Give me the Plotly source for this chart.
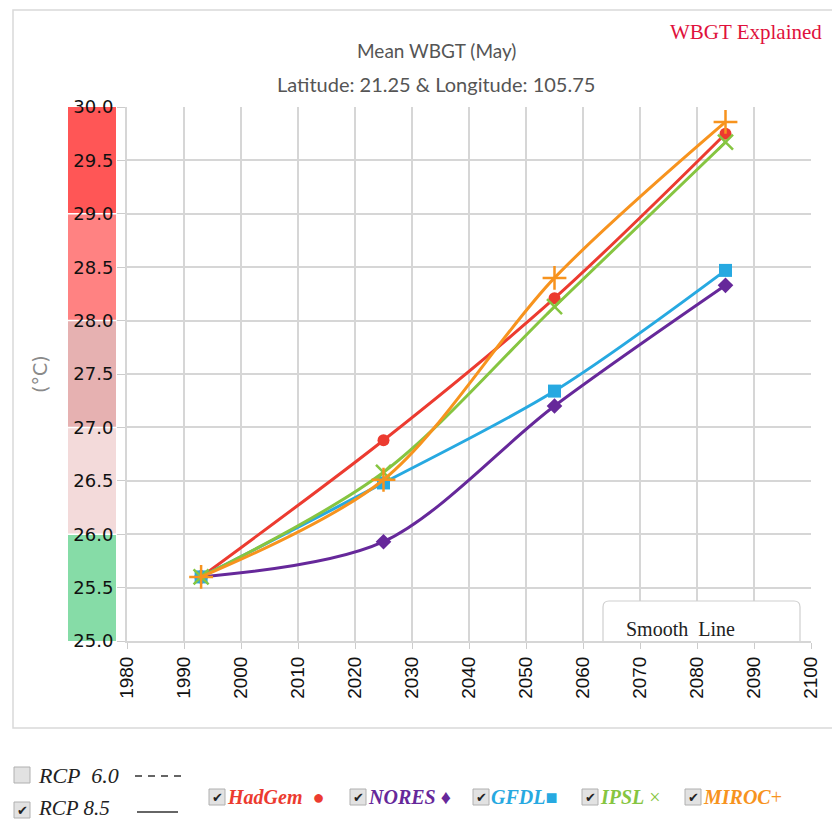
import plotly.graph_objects as go

# ---------------- data ----------------
years = [1993, 2025, 2055, 2085]
hadgem = [25.60, 26.88, 28.21, 29.75]
nores = [25.60, 25.93, 27.20, 28.33]
gfdl = [25.60, 26.48, 27.34, 28.47]
ipsl = [25.60, 26.58, 28.13, 29.67]
miroc = [25.60, 26.51, 28.40, 29.86]

series_names = ["HadGem", "NORES", "GFDL", "IPSL", "MIROC"]
series_values = [hadgem, nores, gfdl, ipsl, miroc]
series_colors = ["#ec3b30", "#66289a", "#27a9e1", "#86c541", "#f7931e"]
series_symbols = ["circle", "diamond", "square", "x-thin", "cross-thin"]
series_sizes = [12, 12, 13, 15, 17]

x_ticks = list(range(1980, 2101, 10))
y_ticks = [25.0, 25.5, 26.0, 26.5, 27.0, 27.5, 28.0, 28.5, 29.0, 29.5, 30.0]
band_edges = [25, 26, 27, 28, 29, 30]
band_colors = ["#86dca7", "#f3dada", "#e6b1b1", "#ff8282", "#ff5656"]

# ---------------- layout geometry (page pixels; figure sits at 8px body offset) ----------------
OFF = 8
W, H = 840 - OFF, 822 - OFF
L, R, T, B = 127, 811, 107, 641
pw, ph = R - L, B - T


def px(x):
    return (x - L) / pw


def py(y):
    return (B - y) / ph


fig = go.Figure()

for name, vals, col, sym, sz in zip(series_names, series_values, series_colors,
                                     series_symbols, series_sizes):
    lw = 2.5 if sym.endswith("thin") else 0
    fig.add_trace(go.Scatter(
        x=years, y=vals, name=name, mode="lines+markers",
        line=dict(color=col, width=3, shape="spline", smoothing=0.9),
        marker=dict(symbol=sym, size=sz, color=col,
                    line=dict(color=col, width=lw)),
        showlegend=False, cliponaxis=False,
    ))

shapes = []
# outer panel border
shapes.append(dict(type="rect", xref="paper", yref="paper",
                   x0=px(13), x1=px(845), y0=py(728), y1=py(10),
                   line=dict(color="#d9d9d9", width=1.5), fillcolor="rgba(0,0,0,0)",
                   layer="below"))
# colored bands behind y tick labels
for i, c in enumerate(band_colors):
    shapes.append(dict(type="rect", xref="paper", yref="y",
                       x0=px(68), x1=px(116), y0=band_edges[i], y1=band_edges[i + 1],
                       line=dict(width=0), fillcolor=c, layer="below"))
    if i > 0:
        shapes.append(dict(type="line", xref="paper", yref="y",
                           x0=px(68), x1=px(116), y0=band_edges[i], y1=band_edges[i],
                           line=dict(color="white", width=1.5), layer="below"))

# Smooth Line box (rounded)
bx0, bx1, by0, by1, rr = 603, 800, 601, 641, 6
path = (f"M {px(bx0)},{py(by1)} L {px(bx0)},{py(by0 + rr)} "
        f"Q {px(bx0)},{py(by0)} {px(bx0 + rr)},{py(by0)} "
        f"L {px(bx1 - rr)},{py(by0)} Q {px(bx1)},{py(by0)} {px(bx1)},{py(by0 + rr)} "
        f"L {px(bx1)},{py(by1)}")
shapes.append(dict(type="path", xref="paper", yref="paper", path=path,
                   line=dict(color="#cfcfcf", width=1.2), fillcolor="white"))


def checkbox(x0, y0, size=16):
    return dict(type="rect", xref="paper", yref="paper",
                x0=px(x0), x1=px(x0 + size), y0=py(y0 + size), y1=py(y0),
                line=dict(color="#b0b0b0", width=1), fillcolor="#e2e2e2")


shapes.append(checkbox(14, 767))
shapes.append(checkbox(14, 802))
for cx in [209, 350, 473, 582, 685]:
    shapes.append(checkbox(cx, 789))

# RCP line-style samples
shapes.append(dict(type="line", xref="paper", yref="paper",
                   x0=px(135), x1=px(182), y0=py(776), y1=py(776),
                   line=dict(color="#333", width=1.5, dash="7px,6px")))
shapes.append(dict(type="line", xref="paper", yref="paper",
                   x0=px(137), x1=px(178), y0=py(812), y1=py(812),
                   line=dict(color="#333", width=1.5)))

annotations = []
annotations.append(dict(text="WBGT Explained", xref="paper", yref="paper",
                        x=px(824), y=py(32), xanchor="right", yanchor="middle",
                        showarrow=False,
                        font=dict(family="Liberation Serif", size=21, color="#e0113c")))
annotations.append(dict(text="Smooth  Line", xref="paper", yref="paper",
                        x=px(680), y=py(629), xanchor="center", yanchor="middle",
                        showarrow=False,
                        font=dict(family="Liberation Serif", size=20, color="#222")))
annotations.append(dict(text="(°C)", xref="paper", yref="paper",
                        x=px(40), y=py(374), xanchor="center", yanchor="middle",
                        textangle=-90, showarrow=False,
                        font=dict(family="Verdana, DejaVu Sans", size=19, color="#8a8a8a")))
annotations.append(dict(text="Mean WBGT (May)", xref="paper", yref="paper",
                        x=px(436), y=py(50), xanchor="center", yanchor="middle",
                        showarrow=False,
                        font=dict(family="Lato", size=19, color="#555555")))
annotations.append(dict(text="Latitude: 21.25 &amp; Longitude: 105.75", xref="paper", yref="paper",
                        x=px(436), y=py(84), xanchor="center", yanchor="middle",
                        showarrow=False,
                        font=dict(family="Lato", size=20, color="#555555")))

# RCP rows
annotations.append(dict(text="<i>RCP  6.0</i>", xref="paper", yref="paper",
                        x=px(37), y=py(775), xanchor="left", yanchor="middle",
                        showarrow=False, borderpad=0,
                        font=dict(family="Liberation Serif", size=22, color="#222")))
annotations.append(dict(text="<i>RCP 8.5</i>", xref="paper", yref="paper",
                        x=px(37), y=py(808), xanchor="left", yanchor="middle",
                        showarrow=False, borderpad=0,
                        font=dict(family="Liberation Serif", size=21, color="#222")))
annotations.append(dict(text="✔", xref="paper", yref="paper",
                        x=px(22), y=py(810), xanchor="center", yanchor="middle",
                        showarrow=False, borderpad=0,
                        font=dict(family="DejaVu Sans", size=13, color="#222")))

legend_items = [
    (209, "<b><i>HadGem</i></b>  ●", series_colors[0]),
    (350, "<b><i>NORES</i></b> ♦", series_colors[1]),
    (473, "<b><i>GFDL</i></b>■", series_colors[2]),
    (582, "<b><i>IPSL</i></b> ×", series_colors[3]),
    (685, "<b><i>MIROC</i></b>+", series_colors[4]),
]
for cx, txt, col in legend_items:
    annotations.append(dict(text="✔", xref="paper", yref="paper",
                            x=px(cx + 8), y=py(797), xanchor="center", yanchor="middle",
                            showarrow=False,
                            font=dict(family="DejaVu Sans", size=13, color="#222")))
    annotations.append(dict(text=txt, xref="paper", yref="paper",
                            x=px(cx + 16), y=py(797), xanchor="left", yanchor="middle",
                            showarrow=False,
                            font=dict(family="Liberation Serif", size=20, color=col)))

fig.update_layout(
    width=W, height=H,
    margin=dict(l=L - OFF, r=W - (R - OFF), t=T - OFF, b=H - (B - OFF), pad=0),
    paper_bgcolor="white", plot_bgcolor="white",
    shapes=shapes, annotations=annotations,
    xaxis=dict(range=[1980, 2100], tickvals=x_ticks, ticktext=[str(v) for v in x_ticks],
               tickangle=-90, showgrid=True, gridcolor="#d6d6d6", gridwidth=2,
               zeroline=False, showline=True, linecolor="#d6d6d6", linewidth=2,
               mirror=False, ticks="outside", ticklen=6, tickcolor="#cccccc",
               tickfont=dict(family="Liberation Sans, Arial", size=19, color="#111")),
    yaxis=dict(range=[25, 30], tickvals=y_ticks, ticktext=[f"{v:.1f}" for v in y_ticks],
               showgrid=True, gridcolor="#d6d6d6", gridwidth=2,
               zeroline=False, showline=True, linecolor="#d6d6d6", linewidth=2,
               ticks="outside", ticklen=8, tickcolor="#cccccc",
               tickfont=dict(family="Verdana, DejaVu Sans", size=18, color="#111")),
)

fig.write_html("out.html")
